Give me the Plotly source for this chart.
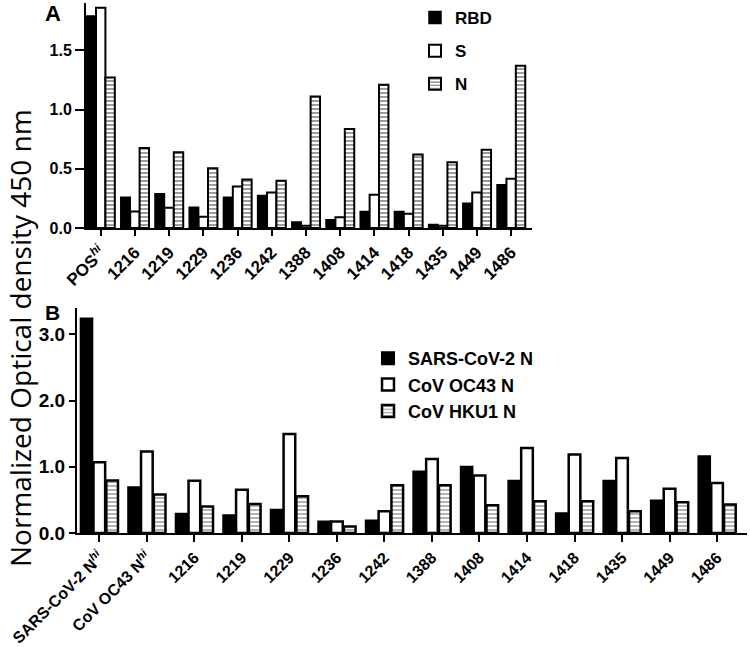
import plotly.graph_objects as go

# ---------------- Data ----------------
cats_a = ["POS<sup><i>hi</i></sup>", "1216", "1219", "1229", "1236", "1242", "1388",
          "1408", "1414", "1418", "1435", "1449", "1486"]
rbd = [1.79, 0.26, 0.29, 0.175, 0.26, 0.275, 0.05, 0.07, 0.14, 0.14, 0.03, 0.21, 0.365]
s_vals = [1.86, 0.14, 0.17, 0.095, 0.35, 0.30, 0.02, 0.09, 0.28, 0.12, 0.02, 0.30, 0.415]
n_vals = [1.27, 0.675, 0.64, 0.505, 0.41, 0.40, 1.11, 0.835, 1.21, 0.62, 0.555, 0.66, 1.37]

cats_b = ["SARS-CoV-2 N<sup><i>hi</i></sup>", "CoV OC43 N<sup><i>hi</i></sup>", "1216", "1219",
          "1229", "1236", "1242", "1388", "1408", "1414", "1418", "1435", "1449", "1486"]
sars_n = [3.24, 0.69, 0.29, 0.27, 0.35, 0.175, 0.19, 0.93, 1.00, 0.79, 0.30, 0.79, 0.49, 1.16]
oc43_n = [1.07, 1.23, 0.79, 0.655, 1.495, 0.175, 0.33, 1.12, 0.87, 1.285, 1.185, 1.135, 0.67, 0.755]
hku1_n = [0.795, 0.58, 0.40, 0.44, 0.555, 0.10, 0.72, 0.72, 0.42, 0.48, 0.48, 0.33, 0.465, 0.43]

FONT = "Liberation Sans, Arial, sans-serif"

fig = go.Figure()

# ---------------- Panel A ----------------
wa = 0.275
offs_a = [-0.4125, -0.1375, 0.1375]
fig.add_trace(go.Bar(x=cats_a, y=rbd, name="RBD", width=wa, offset=offs_a[0],
                     marker=dict(color="black", line=dict(color="black", width=1.5)),
                     xaxis="x", yaxis="y", legend="legend", legendgroup="a1"))
fig.add_trace(go.Bar(x=cats_a, y=s_vals, name="S", width=wa, offset=offs_a[1],
                     marker=dict(color="white", line=dict(color="black", width=2)),
                     xaxis="x", yaxis="y", legend="legend", legendgroup="a2"))
fig.add_trace(go.Bar(x=cats_a, y=n_vals, name="N", width=wa, offset=offs_a[2],
                     marker=dict(color="white", line=dict(color="black", width=2),
                                 pattern=dict(shape="-", fgcolor="#222", bgcolor="white",
                                              size=4, solidity=0.45)),
                     xaxis="x", yaxis="y", legend="legend", legendgroup="a3"))

# ---------------- Panel B ----------------
wb = 0.245
offs_b = [-0.3925, -0.1225, 0.1475]
fig.add_trace(go.Bar(x=cats_b, y=sars_n, name="SARS-CoV-2 N", width=wb, offset=offs_b[0],
                     marker=dict(color="black", line=dict(color="black", width=2)),
                     xaxis="x2", yaxis="y2", legend="legend2", legendgroup="b1"))
fig.add_trace(go.Bar(x=cats_b, y=oc43_n, name="CoV OC43 N", width=wb, offset=offs_b[1],
                     marker=dict(color="white", line=dict(color="black", width=2.5)),
                     xaxis="x2", yaxis="y2", legend="legend2", legendgroup="b2"))
fig.add_trace(go.Bar(x=cats_b, y=hku1_n, name="CoV HKU1 N", width=wb, offset=offs_b[2],
                     marker=dict(color="white", line=dict(color="black", width=2.5),
                                 pattern=dict(shape="-", fgcolor="#555", bgcolor="white",
                                              size=4, solidity=0.45)),
                     xaxis="x2", yaxis="y2", legend="legend2", legendgroup="b3"))

axis_common = dict(showline=True, linecolor="black", linewidth=2, ticks="outside",
                   tickcolor="black", tickwidth=2, showgrid=False, zeroline=False,
                   automargin=False)

fig.update_layout(
    width=750, height=647,
    margin=dict(l=0, r=0, t=0, b=0, autoexpand=False),
    paper_bgcolor="white", plot_bgcolor="white",
    barmode="overlay",
    showlegend=True,
    xaxis=dict(domain=[86 / 750, 532 / 750], anchor="y", type="category",
               range=[-0.43, 12.61], tickangle=-45, ticklen=6,
               tickfont=dict(family=FONT, size=17, color="black", weight="bold"),
               **axis_common),
    yaxis=dict(domain=[419 / 647, 644 / 647], anchor="x", range=[0, 1.9],
               tickvals=[0, 0.5, 1.0, 1.5], tickformat=".1f", ticklen=9,
               tickfont=dict(family=FONT, size=16, color="black", weight="bold"),
               **axis_common),
    xaxis2=dict(domain=[77 / 750, 747 / 750], anchor="y2", type="category",
                range=[-0.47, 13.63], tickangle=-45, ticklen=7,
                tickfont=dict(family=FONT, size=16, color="black", weight="bold"),
                **axis_common),
    yaxis2=dict(domain=[114 / 647, 339 / 647], anchor="x2", range=[0, 3.4],
                tickvals=[0, 1, 2, 3], tickformat=".1f", ticklen=6,
                tickfont=dict(family=FONT, size=19, color="black", weight="bold"),
                **axis_common),
    legend=dict(x=415 / 750, y=1.0, xanchor="left", yanchor="top",
                bgcolor="rgba(0,0,0,0)", tracegroupgap=8,
                font=dict(family=FONT, size=17, color="black", weight="bold")),
    legend2=dict(x=368 / 750, y=1 - 340 / 647, xanchor="left", yanchor="top",
                 bgcolor="rgba(0,0,0,0)", tracegroupgap=0,
                 font=dict(family=FONT, size=18, color="black", weight="bold")),
    annotations=[
        dict(text="Normalized Optical density 450 nm", xref="paper", yref="paper",
             x=20 / 750, y=1 - 338 / 647, xanchor="center", yanchor="middle",
             textangle=-90, showarrow=False,
             font=dict(family="Open Sans, sans-serif", size=28, color="black")),
        dict(text="<b>A</b>", xref="paper", yref="paper", x=53 / 750, y=1 - 13 / 647,
             xanchor="center", yanchor="middle",
             showarrow=False, font=dict(family=FONT, size=22, color="black")),
        dict(text="<b>B</b>", xref="paper", yref="paper", x=52 / 750, y=1 - 312 / 647,
             xanchor="center", yanchor="middle",
             showarrow=False, font=dict(family=FONT, size=21, color="black")),
    ],
)

fig.write_html("out.html", config={"displayModeBar": False},
               post_script="document.body.style.margin='0';document.body.style.overflow='hidden';")
